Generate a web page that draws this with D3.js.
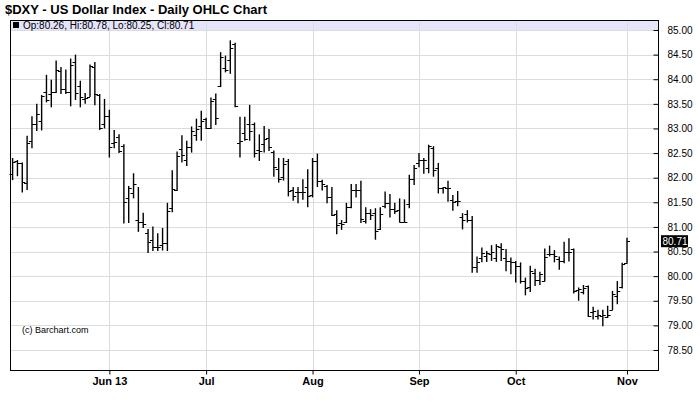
<!DOCTYPE html>
<html><head><meta charset="utf-8">
<script src="https://cdn.jsdelivr.net/npm/d3@7/dist/d3.min.js"></script>
<style>html,body{margin:0;padding:0;background:#fff;}svg{display:block;}</style>
</head><body>
<script>
const dates = [
"2013-05-03","2013-05-06","2013-05-07","2013-05-08","2013-05-09","2013-05-10","2013-05-13","2013-05-14","2013-05-15","2013-05-16","2013-05-17","2013-05-20","2013-05-21","2013-05-22","2013-05-23","2013-05-24","2013-05-28","2013-05-29","2013-05-30","2013-05-31",
"2013-06-03","2013-06-04","2013-06-05","2013-06-06","2013-06-07","2013-06-10","2013-06-11","2013-06-12","2013-06-13","2013-06-14","2013-06-17","2013-06-18","2013-06-19","2013-06-20","2013-06-21","2013-06-24","2013-06-25","2013-06-26","2013-06-27","2013-06-28",
"2013-07-01","2013-07-02","2013-07-03","2013-07-05","2013-07-08","2013-07-09","2013-07-10","2013-07-11","2013-07-12","2013-07-15","2013-07-16","2013-07-17","2013-07-18","2013-07-19","2013-07-22","2013-07-23","2013-07-24","2013-07-25","2013-07-26","2013-07-29","2013-07-30","2013-07-31",
"2013-08-01","2013-08-02","2013-08-05","2013-08-06","2013-08-07","2013-08-08","2013-08-09","2013-08-12","2013-08-13","2013-08-14","2013-08-15","2013-08-16","2013-08-19","2013-08-20","2013-08-21","2013-08-22","2013-08-23","2013-08-26","2013-08-27","2013-08-28","2013-08-29","2013-08-30",
"2013-09-03","2013-09-04","2013-09-05","2013-09-06","2013-09-09","2013-09-10","2013-09-11","2013-09-12","2013-09-13","2013-09-16","2013-09-17","2013-09-18","2013-09-19","2013-09-20","2013-09-23","2013-09-24","2013-09-25","2013-09-26","2013-09-27","2013-09-30",
"2013-10-01","2013-10-02","2013-10-03","2013-10-04","2013-10-07","2013-10-08","2013-10-09","2013-10-10","2013-10-11","2013-10-14","2013-10-15","2013-10-16","2013-10-17","2013-10-18","2013-10-21","2013-10-22","2013-10-23","2013-10-24","2013-10-25","2013-10-28","2013-10-29","2013-10-30","2013-10-31",
"2013-11-01"];

const opens = [82.07,82.34,82.29,81.89,82.75,83.10,83.16,83.75,83.70,83.74,84.17,83.80,83.75,84.35,83.87,83.60,83.64,84.25,83.68,83.10,
83.25,82.70,82.83,82.65,81.58,81.68,81.15,81.10,80.88,80.74,80.59,80.64,80.68,81.39,81.75,82.58,82.36,82.63,82.86,83.04,
83.20,83.00,83.60,83.87,84.22,84.39,84.72,82.71,82.90,83.09,83.10,82.56,82.68,82.80,82.53,82.17,82.01,82.33,81.75,81.70,81.70,81.81,
81.65,82.34,81.94,81.84,81.60,81.26,81.07,81.10,81.40,81.75,81.75,81.12,81.28,81.28,80.95,81.42,81.49,81.36,81.34,81.10,81.47,81.97,
82.30,82.36,82.19,82.60,82.20,81.80,81.80,81.55,81.53,81.20,81.26,81.14,80.19,80.36,80.40,80.45,80.36,80.60,80.36,80.30,
80.29,80.20,79.90,79.77,80.07,79.92,79.90,80.45,80.45,80.34,80.31,80.49,80.55,79.71,79.68,79.80,79.27,79.19,79.19,79.17,79.32,79.60,79.77,
80.26];
const highs = [82.40,82.36,82.31,82.85,83.25,83.50,83.68,84.09,83.99,84.38,84.25,84.20,84.42,84.50,83.97,83.72,84.30,84.35,83.70,83.60,
83.38,82.97,82.88,82.68,81.83,82.09,81.81,81.29,80.96,81.01,80.87,80.98,81.49,82.15,82.53,82.86,82.75,83.04,83.20,83.36,
83.22,83.63,83.71,84.55,84.48,84.79,84.74,83.24,83.24,83.48,83.12,82.88,83.05,82.99,82.55,82.40,82.40,82.38,81.81,81.81,81.97,82.17,
82.40,82.49,81.96,81.85,81.81,81.34,81.14,81.49,81.87,81.87,81.94,81.40,81.36,81.38,81.40,81.72,81.67,81.49,81.58,81.56,82.06,82.26,
82.50,82.40,82.67,82.64,82.30,81.81,81.94,81.65,81.73,81.28,81.34,81.22,80.40,80.58,80.51,80.63,80.65,80.67,80.55,80.38,
80.31,80.28,79.97,80.21,80.15,80.09,80.56,80.62,80.53,80.40,80.70,80.77,80.56,79.77,79.82,79.81,79.38,79.32,79.32,79.40,79.70,79.90,80.27,
80.78];
const lows = [81.95,82.03,81.70,81.75,82.60,82.95,82.96,83.53,83.43,83.72,83.70,83.70,83.45,83.58,83.43,83.50,83.64,83.47,82.97,83.00,
82.41,82.60,82.50,81.07,81.08,81.58,80.90,80.98,80.47,80.51,80.51,80.52,80.51,81.30,81.73,82.31,82.24,82.51,82.75,82.75,
82.99,82.99,83.07,83.84,84.14,84.11,83.43,82.41,82.75,82.75,82.41,82.34,82.51,82.54,82.02,81.90,81.94,81.62,81.53,81.48,81.55,81.40,
81.60,81.81,81.74,81.48,81.22,80.85,80.94,81.08,81.38,81.60,81.08,81.07,81.14,80.74,80.94,81.38,81.19,81.26,81.09,81.09,81.38,81.85,
82.21,82.08,82.09,82.02,81.68,81.68,81.51,81.33,81.42,80.95,81.09,80.07,80.07,80.28,80.29,80.31,80.29,80.31,80.10,80.04,
79.87,79.85,79.61,79.68,79.80,79.82,79.89,80.40,80.28,80.13,80.26,80.30,79.65,79.50,79.63,79.17,79.12,79.12,78.98,79.15,79.31,79.43,79.75,
80.25];
const closes = [82.32,82.30,81.92,82.70,83.10,83.30,83.65,83.57,83.75,84.19,83.80,83.75,84.28,83.72,83.64,83.62,84.27,83.70,83.00,83.25,
82.63,82.73,82.55,81.50,81.80,81.87,81.10,81.05,80.70,80.60,80.60,80.68,81.33,81.78,82.45,82.46,82.63,82.94,82.99,83.16,
83.00,83.56,83.22,84.45,84.18,84.63,83.45,82.75,82.78,82.95,82.50,82.54,82.78,82.62,82.21,81.97,82.28,81.72,81.62,81.70,81.70,81.63,
82.34,81.94,81.87,81.60,81.25,81.04,81.05,81.40,81.76,81.74,81.17,81.29,81.25,80.92,81.27,81.49,81.36,81.33,81.10,81.10,81.97,82.20,
82.35,82.36,82.65,82.16,81.80,81.81,81.80,81.51,81.53,81.14,81.14,80.19,80.28,80.47,80.48,80.50,80.62,80.55,80.31,80.29,
80.21,79.90,79.75,80.10,79.92,80.05,80.38,80.45,80.41,80.30,80.50,80.50,79.70,79.73,79.75,79.19,79.29,79.22,79.22,79.22,79.63,79.70,80.25,
80.71];

const yTicks = [78.5,79.0,79.5,80.0,80.5,81.0,81.5,82.0,82.5,83.0,83.5,84.0,84.5,85.0];
const monthTickDates = ["2013-06-03","2013-07-01","2013-08-01","2013-09-03","2013-10-01","2013-11-01"];
const monthTickLabels = ["Jun 13","Jul","Aug","Sep","Oct","Nov"];
const titleText = "$DXY - US Dollar Index - Daily OHLC Chart";
const legendText = "Op:80.26, Hi:80.78, Lo:80.25, Cl:80.71";
const lastLabel = "80.71";
const lastValue = 80.71;

const W = 700, H = 411;
const plot = {left: 10.5, right: 658.5, top: 20.5, bottom: 370.5};

const svg = d3.select("body").append("svg").attr("width", W).attr("height", H)
  .style("font-family", "'Liberation Sans', Arial, sans-serif");
svg.append("rect").attr("width", W).attr("height", H).attr("fill", "#fff");

const x = d3.scalePoint().domain(dates).range([12.6, 627]);
const y = d3.scaleLinear().domain([78.5, 85]).range([350, 30]);

// legend band
svg.append("rect").attr("x", plot.left).attr("y", plot.top)
  .attr("width", plot.right - plot.left).attr("height", y(85) - plot.top)
  .attr("fill", "#e4e4fa");

// grid
const grid = svg.append("g").attr("stroke", "#dcdcdc").attr("stroke-width", 1).attr("shape-rendering", "crispEdges");
grid.selectAll("line.h").data(yTicks).join("line")
  .attr("x1", plot.left).attr("x2", plot.right)
  .attr("y1", d => Math.round(y(d)) + 0.5).attr("y2", d => Math.round(y(d)) + 0.5);
grid.selectAll("line.v").data(monthTickDates).join("line")
  .attr("x1", d => Math.round(x(d)) + 0.5).attr("x2", d => Math.round(x(d)) + 0.5)
  .attr("y1", plot.top).attr("y2", plot.bottom);

// title
svg.append("text").attr("x", 5).attr("y", 14).attr("font-size", 13).attr("font-weight", "bold")
  .attr("fill", "#000").text(titleText);

// legend
svg.append("rect").attr("x", 13).attr("y", 22).attr("width", 6).attr("height", 6).attr("fill", "#000");
svg.append("text").attr("x", 23).attr("y", 28.5).attr("font-size", 10).attr("fill", "#000").text(legendText);

// OHLC bars
const idx = d3.range(dates.length);
const bars = svg.append("g").attr("stroke", "#000");
bars.selectAll("line.hl").data(idx).join("line")
  .attr("stroke-width", 1.4)
  .attr("x1", i => x(dates[i])).attr("x2", i => x(dates[i]))
  .attr("y1", i => y(highs[i])).attr("y2", i => y(lows[i]));
bars.selectAll("line.o").data(idx).join("line")
  .attr("stroke-width", 1)
  .attr("x1", i => x(dates[i]) - 3).attr("x2", i => x(dates[i]))
  .attr("y1", i => Math.round(y(opens[i])) + 0.5).attr("y2", i => Math.round(y(opens[i])) + 0.5);
bars.selectAll("line.c").data(idx).join("line")
  .attr("stroke-width", 1)
  .attr("x1", i => x(dates[i])).attr("x2", i => x(dates[i]) + 3)
  .attr("y1", i => Math.round(y(closes[i])) + 0.5).attr("y2", i => Math.round(y(closes[i])) + 0.5);

// frame
svg.append("rect").attr("x", plot.left).attr("y", plot.top)
  .attr("width", plot.right - plot.left).attr("height", plot.bottom - plot.top)
  .attr("fill", "none").attr("stroke", "#000").attr("stroke-width", 1);

// right axis
const yAxis = d3.axisRight(y).tickValues(yTicks).tickFormat(d3.format(".2f")).tickSizeInner(-5).tickSizeOuter(0).tickPadding(9);
const ya = svg.append("g").attr("transform", `translate(${plot.right},0)`).call(yAxis);
ya.select(".domain").remove();
ya.selectAll("text").attr("font-size", 10).attr("fill", "#000").style("font-family", "'Liberation Sans', Arial, sans-serif");
ya.selectAll("line").attr("stroke", "#000");

// x axis
const xAxis = d3.axisBottom(x).tickValues(monthTickDates)
  .tickFormat((d, i) => monthTickLabels[i]).tickSizeInner(4).tickSizeOuter(0).tickPadding(3);
const xa = svg.append("g").attr("transform", `translate(0,${plot.bottom})`).call(xAxis);
xa.select(".domain").remove();
xa.selectAll("text").attr("font-size", 11).attr("font-weight", "bold").attr("fill", "#000")
  .style("font-family", "'Liberation Sans Narrow', 'Liberation Sans', Arial, sans-serif");
xa.selectAll("line").attr("stroke", "#000");

// last value label
const ly = y(lastValue);
svg.append("rect").attr("x", 661).attr("y", ly - 6).attr("width", 27).attr("height", 12).attr("fill", "#000");
svg.append("text").attr("x", 662.5).attr("y", ly + 4).attr("font-size", 10).attr("fill", "#fff").text(lastLabel);

// copyright
svg.append("text").attr("x", 22).attr("y", 333).attr("font-size", 9).attr("fill", "#000").text("(c) Barchart.com");
</script>
</body></html>
